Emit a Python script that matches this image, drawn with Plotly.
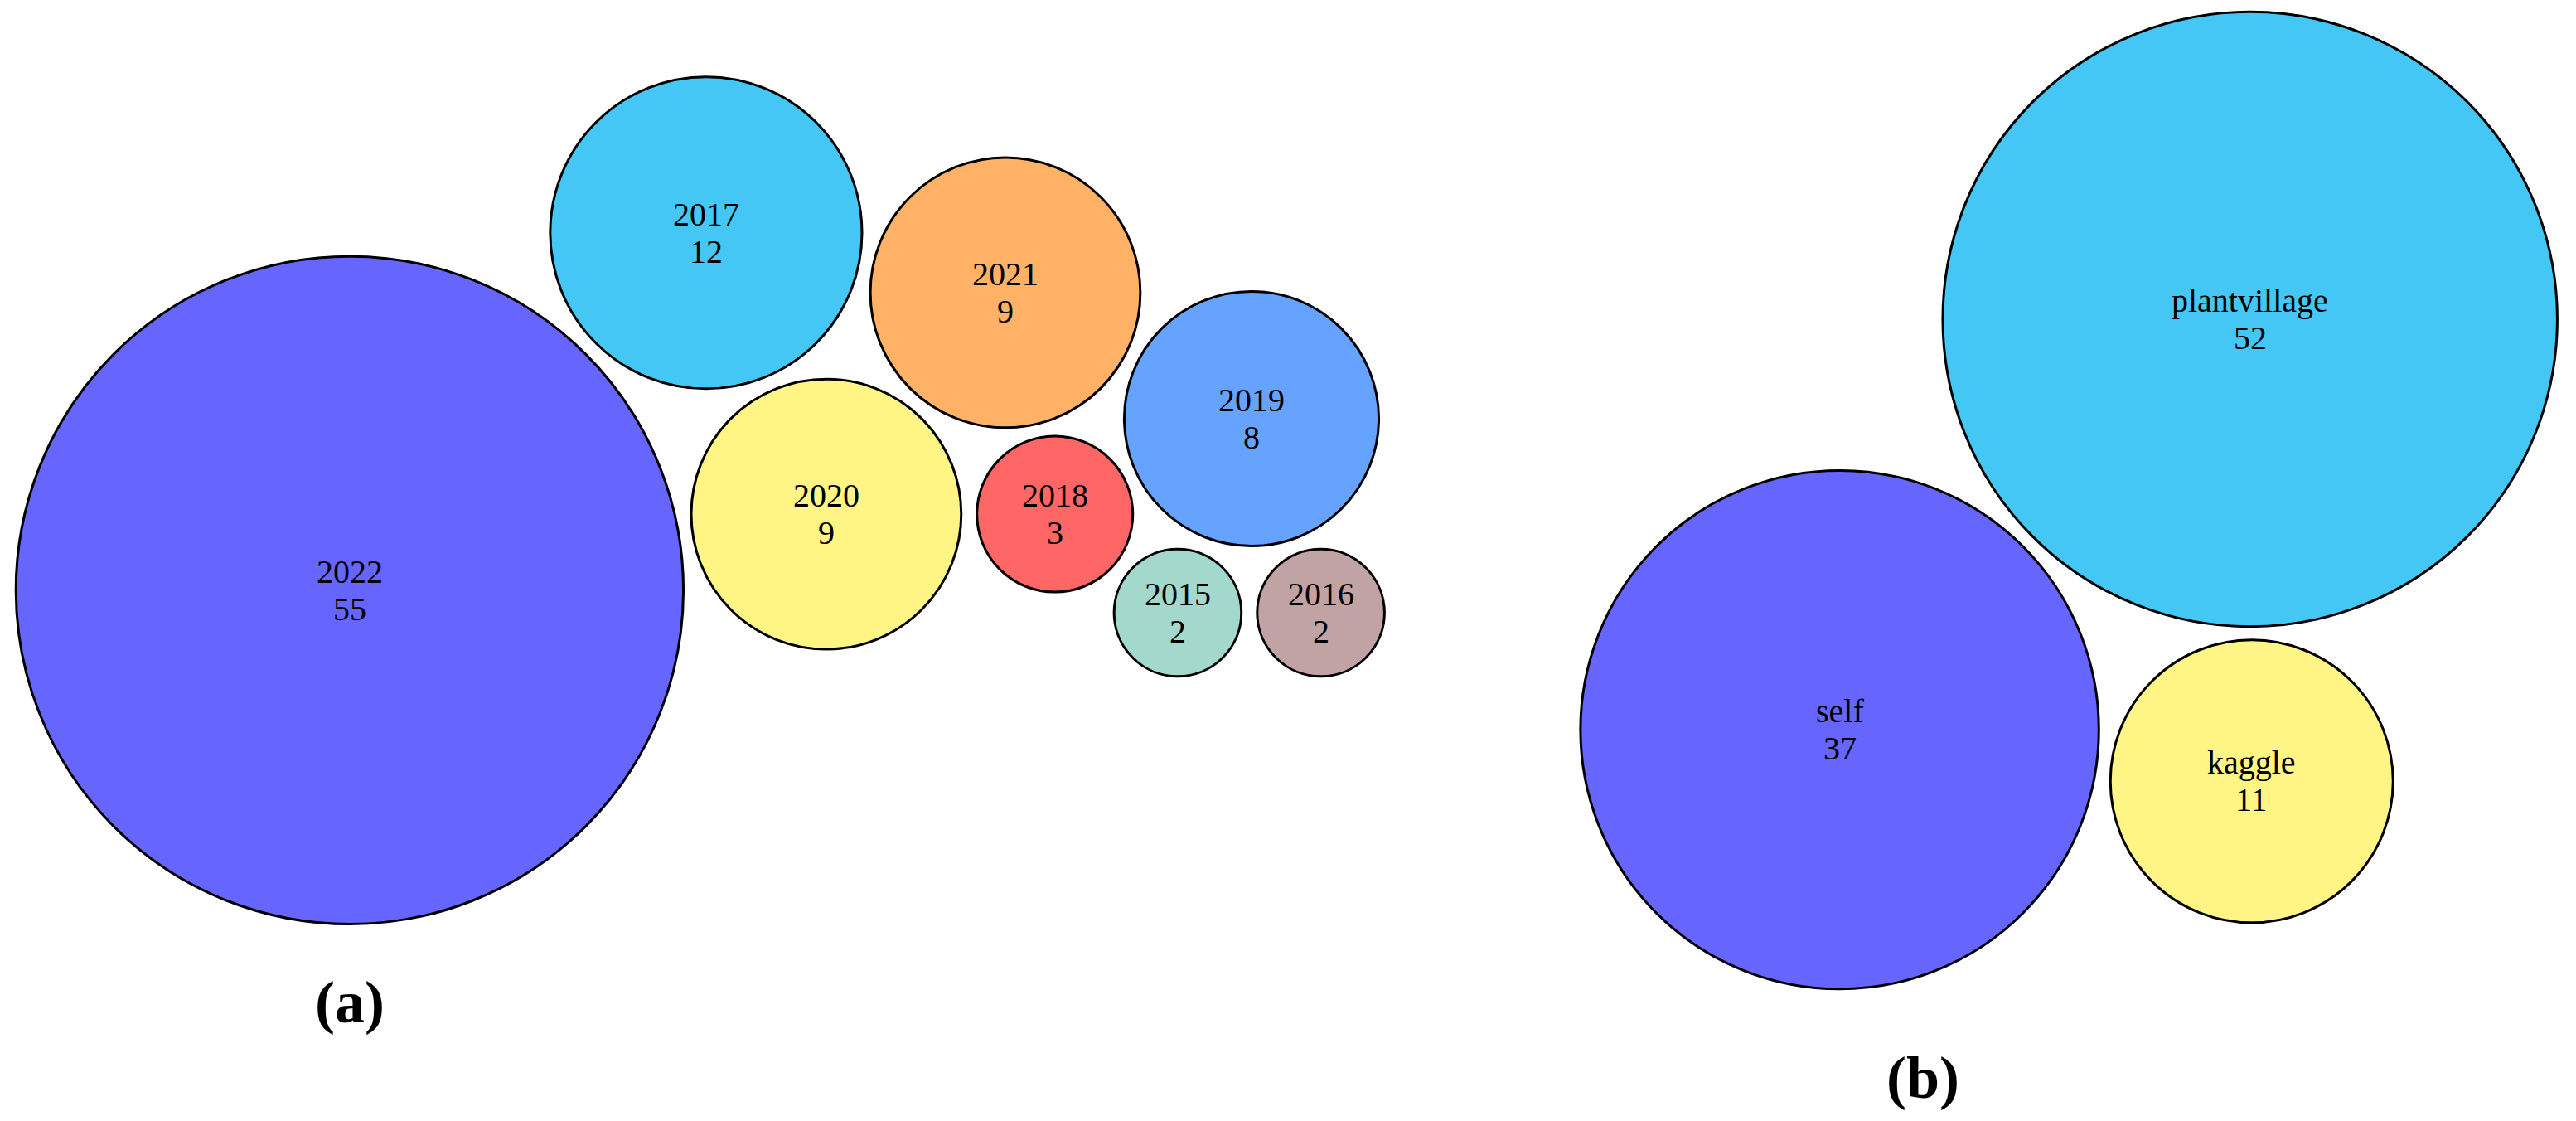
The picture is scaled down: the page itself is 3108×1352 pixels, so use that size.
import math
import plotly.graph_objects as go

# ---------------- data ----------------
years = ["2022", "2017", "2021", "2020", "2019", "2018", "2015", "2016"]
year_counts = [55, 12, 9, 9, 8, 3, 2, 2]
year_colors = ["#6666FF", "#44C7F4", "#FFB266", "#FFF585", "#66A3FF", "#FF6666", "#A3D9CC", "#C2A3A3"]
# packed-bubble centre positions, in units of sqrt(count)
year_cx = [0.0, 7.92, 14.57, 10.59, 20.04, 15.67, 18.40, 21.58]
year_cy = [0.0, 7.94, 6.61, 1.69, 3.81, 1.69, -0.50, -0.50]

sources = ["plantvillage", "self", "kaggle"]
source_counts = [52, 37, 11]
source_colors = ["#44C7F4", "#6666FF", "#FFF585"]
source_cx = [9.63, 0.0, 9.67]
source_cy = [9.63, 0.0, -1.21]

panel_labels = ["(a)", "(b)"]

# ---------------- figure ----------------
W, H = 3108, 1352
TEXT_FONT = dict(family="Liberation Serif", size=40, color="black")
LINE_OFF = 22.5

fig = go.Figure()
shapes = []
annotations = []


def add_panel(names, counts, colors, cx, cy, xref, yref):
    radii = [math.sqrt(c) for c in counts]
    for n, c, col, x, y, r in zip(names, counts, colors, cx, cy, radii):
        shapes.append(dict(type="circle", xref=xref, yref=yref,
                           x0=x - r, x1=x + r, y0=y - r, y1=y + r,
                           fillcolor=col, line=dict(color="black", width=3),
                           layer="below"))
        annotations.append(dict(x=x, y=y, xref=xref, yref=yref, text=n,
                                showarrow=False, yshift=LINE_OFF, font=TEXT_FONT))
        annotations.append(dict(x=x, y=y, xref=xref, yref=yref, text=str(c),
                                showarrow=False, yshift=-LINE_OFF, font=TEXT_FONT))
    fig.add_trace(go.Scatter(x=cx, y=cy, xaxis=xref, yaxis=yref, mode="markers",
                             marker=dict(size=1, opacity=0),
                             text=[f"{n}: {c}" for n, c in zip(names, counts)],
                             hoverinfo="text", showlegend=False))


add_panel(years, year_counts, year_colors, year_cx, year_cy, "x", "y")
add_panel(sources, source_counts, source_colors, source_cx, source_cy, "x2", "y2")

LABEL_FONT = dict(family="Liberation Serif", size=72, color="black")
annotations.append(dict(x=0.0, y=-9.15, xref="x", yref="y", text="<b>" + panel_labels[0] + "</b>",
                        showarrow=False, font=LABEL_FONT))
annotations.append(dict(x=1.95, y=-8.17, xref="x2", yref="y2", text="<b>" + panel_labels[1] + "</b>",
                        showarrow=False, font=LABEL_FONT))

hidden = dict(visible=False, showgrid=False, zeroline=False, fixedrange=True)
fig.update_layout(
    width=W, height=H,
    margin=dict(l=0, r=0, t=0, b=0),
    paper_bgcolor="white", plot_bgcolor="white",
    xaxis=dict(domain=[0, 0.58], range=[-7.77, 25.43], **hidden),
    yaxis=dict(domain=[0, 1], range=[-11.79, 13.11], anchor="x", **hidden),
    xaxis2=dict(domain=[0.58, 1], range=[-8.11, 17.28], anchor="y2", **hidden),
    yaxis2=dict(domain=[0, 1], range=[-9.18, 17.12], anchor="x2", **hidden),
    shapes=shapes,
    annotations=annotations,
    showlegend=False,
)

fig.write_html("out.html", config={"displayModeBar": False},
               post_script="document.body.style.margin='0';document.body.style.overflow='hidden';")
